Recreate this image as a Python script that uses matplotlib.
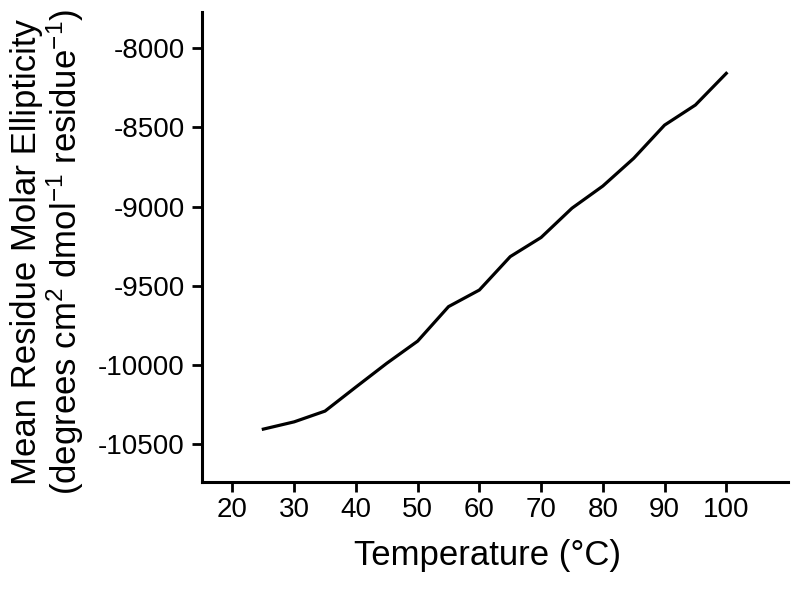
import numpy as np
import matplotlib
matplotlib.use("Agg")
import matplotlib.pyplot as plt

plt.rcParams['font.family'] = ['Liberation Sans', 'DejaVu Sans']
plt.rcParams['mathtext.fontset'] = 'custom'
plt.rcParams['mathtext.rm'] = 'Liberation Sans'
plt.rcParams['mathtext.it'] = 'Liberation Sans'
plt.rcParams['axes.unicode_minus'] = False

# temperature (°C) and ellipticity
temperature = [25, 30, 35, 40, 45, 50, 55, 60, 65, 70, 75, 80, 85, 90, 95, 100]
ellipticity = [-10406, -10360, -10292, -10140, -9990, -9850, -9632, -9527,
               -9316, -9195, -9010, -8870, -8695, -8485, -8358, -8158]

x_ticks = [20, 30, 40, 50, 60, 70, 80, 90, 100]
y_ticks = [-8000, -8500, -9000, -9500, -10000, -10500]

fig = plt.figure(figsize=(8, 5.89), dpi=100)
ax = fig.add_axes([0.252, 0.1817, 0.733, 0.798])

ax.plot(temperature, ellipticity, color='black', linewidth=2.3)

ax.set_xlim(15, 110)
ax.set_ylim(-10740, -7770)
ax.set_xticks(x_ticks)
ax.set_yticks(y_ticks)

for side in ['top', 'right']:
    ax.spines[side].set_visible(False)
for side in ['left', 'bottom']:
    ax.spines[side].set_linewidth(2.2)

ax.tick_params(direction='out', length=7, width=2, labelsize=20)
ax.tick_params(axis='y', pad=5)
ax.tick_params(axis='x', pad=4)

ax.set_xlabel('Temperature (°C)', fontsize=25)
ax.xaxis.set_label_coords(0.487, -0.122)
ax.set_ylabel('Mean Residue Molar Ellipticity\n'
              '(degrees cm$^2$ dmol$^{-1}$ residue$^{-1}$)',
              fontsize=25, linespacing=1.05)
ax.yaxis.set_label_coords(-0.197, 0.49)

fig.savefig('out.png', dpi=100)
